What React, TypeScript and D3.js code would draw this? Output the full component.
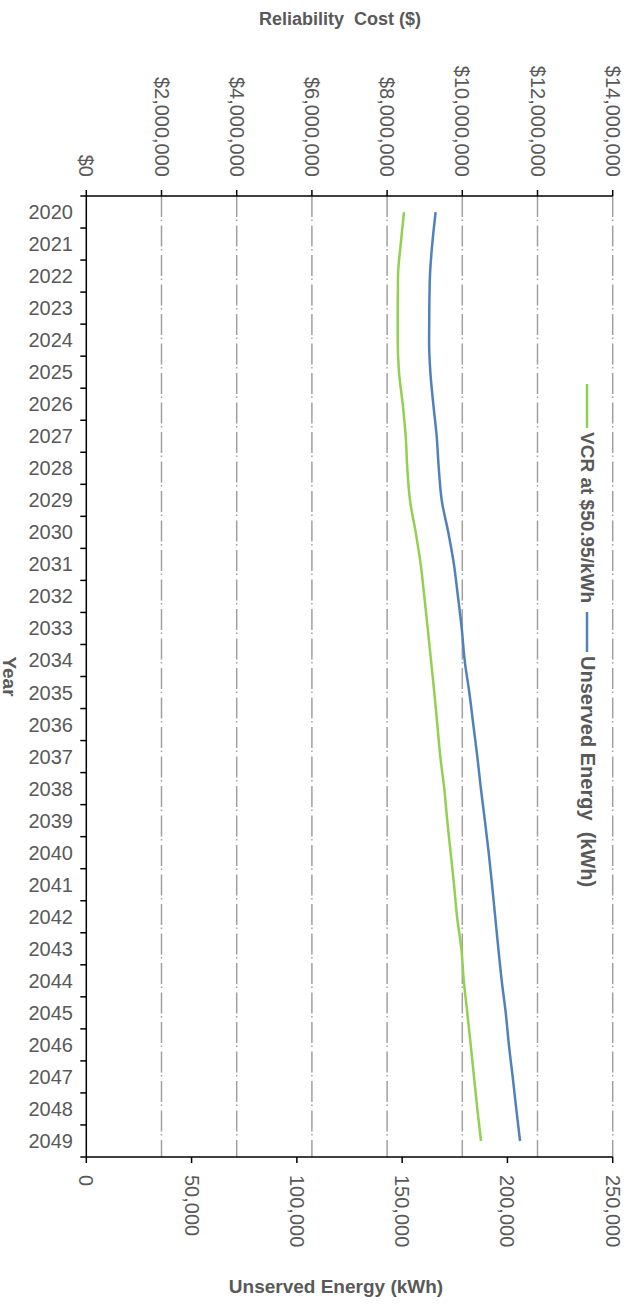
import React from 'react';
import * as d3 from 'd3';

const years = ['2020','2021','2022','2023','2024','2025','2026','2027','2028','2029','2030','2031','2032','2033','2034','2035','2036','2037','2038','2039','2040','2041','2042','2043','2044','2045','2046','2047','2048','2049'];
const unservedEnergyKWh = [165900,164300,163200,162900,162800,163400,164800,166400,167400,168800,171900,174600,176500,178300,179700,181900,183800,185700,187400,189300,191100,192700,194200,195700,197300,199200,200700,202500,204200,206000];
const vcrCost = [8449600,8361800,8290000,8282000,8282000,8316600,8415000,8494800,8537300,8609100,8760700,8893700,8989400,9079900,9167600,9255400,9335200,9415000,9520000,9600000,9690000,9780000,9860000,9975000,10040000,10133100,10223500,10311300,10399000,10497400];
const costTicks = [0,2000000,4000000,6000000,8000000,10000000,12000000,14000000];
const energyTicks = [0,50000,100000,150000,200000,250000];

const GREEN = '#92D050';
const BLUE = '#4F81BD';
const TEXT = '#595959';
const FONT = '"Liberation Sans", Arial, sans-serif';

export default function App() {
  const left = 86.3, right = 612.7, top = 196, bottom = 1157;
  const y = d3.scaleBand<string>().domain(years).range([top, bottom]);
  const xCost = d3.scaleLinear().domain([0, 14000000]).range([left, right]);
  const xEnergy = d3.scaleLinear().domain([0, 250000]).range([left, right]);
  const bw = y.bandwidth();
  const cy = (i: number) => (y(years[i]) as number) + bw / 2;

  const energyLine = d3.line<number>()
    .x(d => xEnergy(d))
    .y((_, i) => cy(i))
    .curve(d3.curveMonotoneY)(unservedEnergyKWh) as string;
  const costLine = d3.line<number>()
    .x(d => xCost(d))
    .y((_, i) => cy(i))
    .curve(d3.curveMonotoneY)(vcrCost) as string;

  const fmtCost = (v: number) => '$' + d3.format(',')(v);
  const fmtEnergy = (v: number) => d3.format(',')(v);
  const boundaries = years.map(yr => y(yr) as number).concat([bottom]);

  return (
    <svg width={636} height={1309} style={{ position: 'absolute', left: 0, top: 0, background: '#fff' }} fontFamily={FONT}>
      {/* gridlines */}
      {costTicks.slice(1).map(t => (
        <line key={'g' + t} x1={xCost(t)} x2={xCost(t)} y1={top} y2={bottom}
          stroke="#A0A0A0" strokeWidth={1.5} strokeDasharray="21,2.5,1.5,4.5" />
      ))}
      {/* series */}
      <path d={costLine} fill="none" stroke={GREEN} strokeWidth={2.5} />
      <path d={energyLine} fill="none" stroke={BLUE} strokeWidth={2.5} />
      {/* top axis */}
      <line x1={left} x2={right} y1={top} y2={top} stroke="#000" strokeWidth={1.5} />
      {costTicks.map(t => (
        <g key={'ct' + t}>
          <line x1={xCost(t)} x2={xCost(t)} y1={top} y2={top - 6} stroke="#000" strokeWidth={1.5} />
          <text transform={`translate(${xCost(t)},${top - 19}) rotate(90)`} textAnchor="end" dy="0.35em"
            fontSize={20} fill={TEXT}>{fmtCost(t)}</text>
        </g>
      ))}
      {/* bottom axis */}
      <line x1={left} x2={right} y1={bottom} y2={bottom} stroke="#000" strokeWidth={1.5} />
      {energyTicks.map(t => (
        <g key={'et' + t}>
          <line x1={xEnergy(t)} x2={xEnergy(t)} y1={bottom} y2={bottom + 6} stroke="#000" strokeWidth={1.5} />
          <text transform={`translate(${xEnergy(t)},${bottom + 18}) rotate(90)`} textAnchor="start" dy="0.35em"
            fontSize={20} fill={TEXT}>{fmtEnergy(t)}</text>
        </g>
      ))}
      {/* left axis */}
      <line x1={left} x2={left} y1={top} y2={bottom} stroke="#000" strokeWidth={1.5} />
      {boundaries.map((b, i) => (
        <line key={'yt' + i} x1={left - 6} x2={left} y1={b} y2={b} stroke="#000" strokeWidth={1.5} />
      ))}
      {years.map((yr, i) => (
        <text key={yr} x={73} y={cy(i)} dy="0.35em" textAnchor="end" fontSize={20} fill={TEXT}>{yr}</text>
      ))}
      {/* titles */}
      <text x={340} y={25} textAnchor="middle" fontSize={18} fontWeight="bold" fill={TEXT} style={{ whiteSpace: 'pre' }}>{'Reliability  Cost ($)'}</text>
      <text x={336} y={1293} textAnchor="middle" fontSize={19} fontWeight="bold" fill={TEXT}>Unserved Energy (kWh)</text>
      <text transform={`translate(10,${(top + bottom) / 2}) rotate(90)`} textAnchor="middle" dy="0.35em" fontSize={19} fontWeight="bold" fill={TEXT}>Year</text>
      {/* legend */}
      <line x1={587} x2={587} y1={384} y2={428} stroke={GREEN} strokeWidth={2.5} />
      <text transform={`translate(588,432) rotate(90)`} dy="0.35em" fontSize={19} fontWeight="bold" fill={TEXT}>VCR at $50.95/kWh</text>
      <line x1={587} x2={587} y1={612} y2={652} stroke={BLUE} strokeWidth={2.5} />
      <text transform={`translate(588,656) rotate(90)`} dy="0.35em" fontSize={20} fontWeight="bold" fill={TEXT} style={{ whiteSpace: 'pre' }}>{'Unserved Energy  (kWh)'}</text>
    </svg>
  );
}
